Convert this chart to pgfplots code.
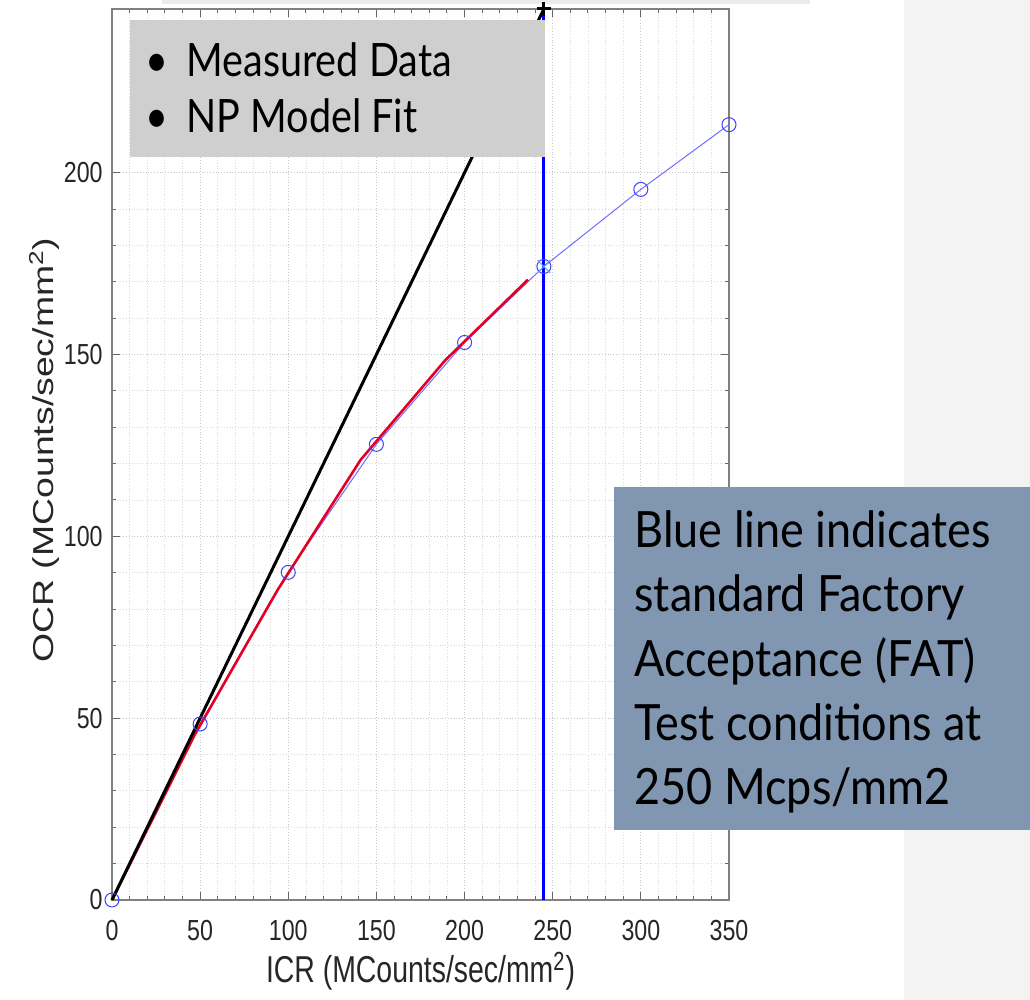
\documentclass[border=0pt]{standalone}
\usepackage{pgfplots}
\pgfplotsset{compat=1.18}
\usepackage{fontspec}
\setmainfont{Liberation Sans}
\newfontfamily\axisfont[FakeStretch=0.80]{Liberation Sans}
\newfontfamily\xlabfont[FakeStretch=0.76]{Liberation Sans}
\newfontfamily\slidefont[FakeStretch=0.86]{Lato}
\newfontfamily\boxfont[FakeStretch=0.90]{Lato}
\definecolor{legbox}{RGB}{208,207,208}
\definecolor{notebox}{RGB}{129,150,177}
\definecolor{panel}{RGB}{243,243,243}
\definecolor{mblue}{RGB}{110,110,255}
\definecolor{fitred}{RGB}{228,0,36}
\definecolor{xblue}{RGB}{93,165,232}
\definecolor{txt}{RGB}{38,38,38}
\begin{document}
\begin{tikzpicture}
\begin{scope}[x=0.5pt,y=0.5pt]
\path[use as bounding box] (0,0) rectangle (1030,1000);
\fill[panel] (904,0) rectangle (1030,1000);
\fill[black!8] (162,996) rectangle (810,1000);
\end{scope}
\begin{axis}[
  at={(56pt,50pt)}, anchor=south west,
  scale only axis, width=308.5pt, height=445.5pt,
  xmin=0, xmax=350, ymin=0, ymax=245,
  xtick={0,50,...,350}, ytick={0,50,...,200},
  minor x tick num=4, minor y tick num=4,
  tick align=inside, major tick length=4pt, minor tick length=2pt,
  grid=both,
  minor grid style={densely dotted, line width=0.4pt, black!14},
  major grid style={densely dotted, line width=0.4pt, black!22},
  axis line style={black!50, line width=0.6pt},
  tick style={black!60, line width=0.5pt},
  /pgf/number format/assume math mode=true,
  tick label style={font=\axisfont\fontsize{14.5}{17}\selectfont, text=txt},
  xticklabel style={anchor=north, inner sep=0pt, yshift=-10pt},
  yticklabel style={anchor=east, inner sep=0pt, xshift=-4.5pt},
  xlabel={ICR (MCounts/sec/mm\textsuperscript{2})},
  ylabel={\scalebox{1}[0.77]{OCR (MCounts/sec/mm\textsuperscript{2})}},
  xlabel style={font=\xlabfont\fontsize{18.7}{22}\selectfont, text=txt, at={(axis description cs:0.5,-0.080)}, anchor=center},
  ylabel style={font=\rmfamily\fontsize{18.7}{22}\selectfont, text=txt, at={(axis description cs:-0.110,0.505)}, anchor=center},
  clip=false,
]
\addplot[color=mblue, line width=0.5pt, mark=o, mark size=3.5pt, mark options={line width=0.5pt, color=blue!75}]
  coordinates {(0,0) (50,48.4) (100,90.1) (150,125.3) (200,153.3) (245,174.2) (300,195.4) (350,213.2)};
\addplot[color=fitred, line width=1.3pt]
  coordinates {(0,0) (47,45.5) (94,85.3) (141,121) (189,148.4) (236,170.6)};
\addplot[black, line width=1.5pt] coordinates {(0,0) (245,245)};
\addplot[blue, line width=1.5pt] coordinates {(245,0) (245,245)};
\addplot[only marks, mark=x, mark size=4.5pt, mark options={line width=0.5pt, color=xblue}]
  coordinates {(245,174.2)};
\addplot[only marks, mark=+, mark size=3.5pt, mark options={line width=1.5pt, color=black}]
  coordinates {(245,245)};
\end{axis}
\begin{scope}[x=0.5pt,y=0.5pt]
% legend box
\fill[legbox] (130,980) rectangle (545,843);
\node[anchor=base, font=\slidefont\fontsize{23}{28}\selectfont] at (157,923) {\textbullet};
\node[anchor=base west, inner sep=0pt, font=\slidefont\fontsize{23}{28}\selectfont] at (186,923) {Measured Data};
\node[anchor=base, font=\slidefont\fontsize{23}{28}\selectfont] at (157,867) {\textbullet};
\node[anchor=base west, inner sep=0pt, font=\slidefont\fontsize{23}{28}\selectfont] at (186,867) {NP Model Fit};
% note box
\fill[notebox] (614,513) rectangle (1030,170);
\begin{scope}[every node/.style={anchor=base west, inner sep=0pt, font=\boxfont\fontsize{25}{30}\selectfont}]
\node at (634,452) {Blue line indicates};
\node at (634,388) {standard Factory};
\node at (634,323) {Acceptance (FAT)};
\node at (634,259) {Test conditions at};
\node at (634,195) {250 Mcps/mm2};
\end{scope}
\end{scope}
\end{tikzpicture}
\end{document}
